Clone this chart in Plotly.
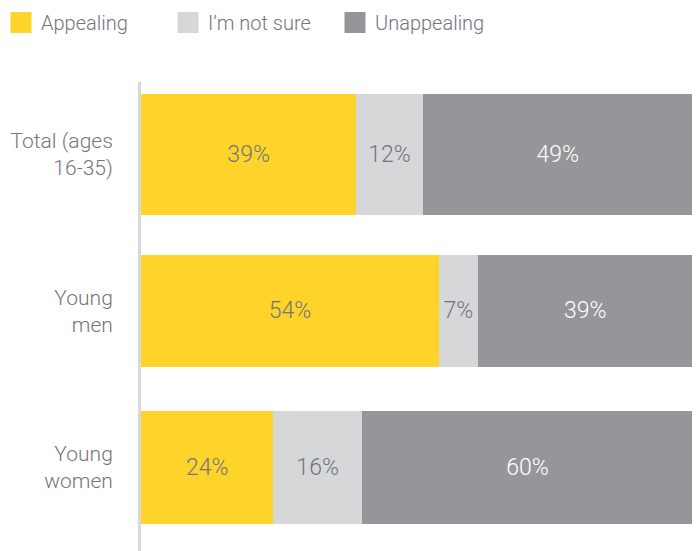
import plotly.graph_objects as go

categories = ["Total (ages<br>16-35)", "Young<br>men", "Young<br>women"]
series_names = ["Appealing", "I’m not sure", "Unappealing"]
appealing = [39, 54, 24]
not_sure = [12, 7, 16]
unappealing = [49, 39, 60]

colors = ["#FED42A", "#D6D7D9", "#96969A"]
text_colors = ["#747480", "#747480", "#FFFFFF"]
bar_widths = [0.77, 0.72, 0.72]

FONT = "Roboto"
GRAY = "#747480"

fig = go.Figure()
for name, vals, col, tcol in zip(series_names, [appealing, not_sure, unappealing], colors, text_colors):
    fig.add_trace(go.Bar(
        y=categories, x=vals, name=name, orientation="h",
        marker=dict(color=col, line=dict(width=0)),
        width=bar_widths,
        text=[f"{v}%" for v in vals], textposition="inside",
        insidetextanchor="middle", textangle=0,
        textfont=dict(color=tcol, size=23, family=FONT, weight=300),
        showlegend=False, hoverinfo="skip",
    ))
    # legend proxy with a larger square swatch
    fig.add_trace(go.Scatter(
        x=[None], y=[None], mode="markers", name=name,
        marker=dict(symbol="square", size=16, color=col, line=dict(color=col, width=5)),
        showlegend=True,
    ))

fig.update_layout(
    width=700, height=551,
    barmode="stack", bargap=0.28,
    paper_bgcolor="white", plot_bgcolor="white",
    margin=dict(l=133, r=15, t=74, b=0, autoexpand=False),
    font=dict(family=FONT, color=GRAY),
    legend=dict(
        orientation="h", traceorder="normal",
        x=-0.2536, y=1.1656, xanchor="left", yanchor="top",
        font=dict(size=20, color=GRAY, family=FONT, weight=300),
        entrywidth=122,
        bgcolor="rgba(0,0,0,0)",
    ),
    xaxis=dict(range=[0, 100], visible=False, fixedrange=True),
    yaxis=dict(
        range=[2.585, -0.463], showline=True, linecolor="#D9D9D9", linewidth=3,
        showgrid=False, zeroline=False, ticks="", ticklabelstandoff=21,
        automargin=False,
        tickfont=dict(size=21, color=GRAY, family=FONT, weight=300),
    ),
)

fig.write_html("out.html")
